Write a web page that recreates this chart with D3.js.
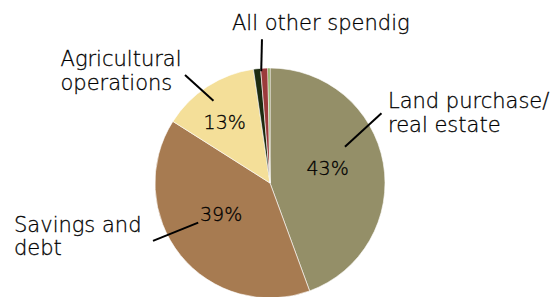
<!DOCTYPE html>
<html>
<head>
<meta charset="utf-8">
<script src="https://cdn.jsdelivr.net/npm/d3@7"></script>
<style>
  html, body { margin: 0; padding: 0; background: #fff; }
  svg text { font-family: "DejaVu Sans", sans-serif; font-weight: 200; fill: #000; stroke: #000; stroke-width: 0.3; }
</style>
</head>
<body>
<svg id="chart" width="556" height="297"></svg>
<script>
// slices, clockwise from 12 o'clock
const categories = ['Land purchase/real estate', 'Savings and debt', 'Agricultural operations', 'All other spendig', 'Other (red)', 'Other (green)'];
const shares = [44.4, 39.6, 13.7, 1.0, 1.0, 0.3];
const colors = ['#948f68', '#a77b51', '#f4df99', '#1d2b0f', '#9b3b3b', '#76a043'];

// inside percentage labels as printed on the chart
const pctLabels = ['43%', '39%', '13%'];

// outside labels (one per named slice)
const labelLines = [
  ['Land purchase/', 'real estate'],
  ['Savings and', 'debt'],
  ['Agricultural', 'operations'],
  ['All other spendig']
];

const W = 556, H = 297;
const CX = 270, CY = 183, R = 115;

const svg = d3.select('#chart');
const g = svg.append('g').attr('transform', `translate(${CX},${CY})`);

const pie = d3.pie().sort(null).value(d => d.v)
  .startAngle(0).endAngle(2 * Math.PI);
const arcs = pie(shares.map((v, i) => ({ v, i })));
const arc = d3.arc().innerRadius(0).outerRadius(R);

g.selectAll('path.slice')
  .data(arcs)
  .join('path')
  .attr('class', 'slice')
  .attr('d', arc)
  .attr('fill', d => colors[d.index])
  .attr('stroke', '#fff')
  .attr('stroke-width', 0.6);

// polar helper: angle in degrees clockwise from top, radius as fraction of R
const polar = (deg, rf) => {
  const a = deg * Math.PI / 180;
  return [rf * R * Math.sin(a), -rf * R * Math.cos(a)];
};

// percentage labels
const pctPos = [[74.6, 0.52], [238.3, 0.50], [324, 0.67]];
g.selectAll('text.pct')
  .data(pctLabels)
  .join('text')
  .attr('class', 'pct')
  .attr('text-anchor', 'middle')
  .attr('font-size', 19)
  .attr('x', (d, i) => polar(...pctPos[i])[0])
  .attr('y', (d, i) => polar(...pctPos[i])[1] + 8)
  .text(d => d);

// leader lines: [inner angle, inner r], [outer angle, outer r]; text start offset from outer end
const leaders = [
  { inner: [64.2, 0.724], outer: [58, 1.143], dx: 6.5, dy: -5 },
  { inner: [241.1, 0.713], outer: [243.7, 1.135], dx: -139, dy: -9 },
  { inner: [325.5, 0.868], outer: [321.8, 1.195], dx: -124.5, dy: -9 },
  { inner: [355.5, 0.974], outer: [356.8, 1.252], dx: -30, dy: -9 }
];

leaders.forEach((L, i) => {
  const p0 = polar(...L.inner), p1 = polar(...L.outer);
  g.append('line')
    .attr('x1', p0[0]).attr('y1', p0[1])
    .attr('x2', p1[0]).attr('y2', p1[1])
    .attr('stroke', '#000')
    .attr('stroke-width', 2);

  const t = g.append('text')
    .attr('text-anchor', 'start')
    .attr('font-size', 21)
    .attr('x', p1[0] + L.dx)
    .attr('y', p1[1] + L.dy);
  labelLines[i].forEach((line, k) => {
    t.append('tspan')
      .attr('x', p1[0] + L.dx)
      .attr('dy', k === 0 ? 0 : 23.5)
      .text(line);
  });
});
</script>
</body>
</html>
